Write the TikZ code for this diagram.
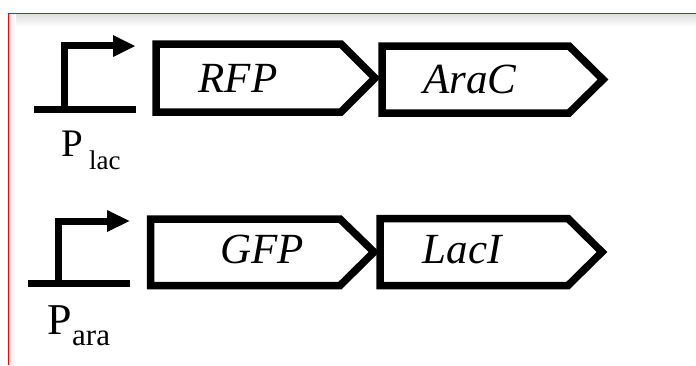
\documentclass[tikz,border=0pt]{standalone}
\usepackage{fontspec}
\setmainfont{Liberation Serif}
\begin{document}
\begin{tikzpicture}[x=1pt,y=-1pt,
  gene/.style={line width=7.5pt, line join=miter, fill=white},
  prom/.style={line width=7pt, line join=miter},
  genelbl/.style={inner sep=0pt, anchor=base, font=\fontsize{43}{48}\selectfont\itshape},
  pbig/.style={inner sep=0pt, anchor=base west},
  frame/.style={red, line width=1.5pt}]
\useasboundingbox (0,0) rectangle (696,365);
\fill[white] (0,0) rectangle (696,365);
% soft shadow inside the frame
\shade[top color=black!12, bottom color=white] (9,14.5) rectangle (696,27);
\shade[left color=black!8, right color=white] (9,14.5) rectangle (16,365);
\draw[frame] (8.5,365) -- (8.5,13.5) -- (696,13.5);

% ---------- row 1 ----------
\draw[prom] (34,109.5) -- (136,109.5);
\draw[prom] (64.5,109.5) -- (64.5,45.5) -- (114,45.5);
\fill (113,35) -- (135,46) -- (113,57) -- cycle;
\draw[gene] (156,44) -- (341,44) -- (375,78) -- (341,112) -- (156,112) -- cycle;
\draw[gene] (382,46) -- (569,46) -- (603,79.5) -- (569,113) -- (382,113) -- cycle;
\node[genelbl] (rfp) at (238,92) {RFP};
\node[genelbl] (arac) at (470,93) {AraC};
\node[pbig, font=\fontsize{39}{44}\selectfont] (plac) at (61,156) {P};
\node[pbig, font=\fontsize{27}{30}\selectfont] (placsub) at (89,169) {lac};

% ---------- row 2 ----------
\draw[prom] (28,283.5) -- (130,283.5);
\draw[prom] (58,283.5) -- (58,221) -- (108,221);
\fill (107,210) -- (129.5,221) -- (107,232) -- cycle;
\draw[gene] (150.5,219) -- (340,219) -- (374,252) -- (340,285.5) -- (150.5,285.5) -- cycle;
\draw[gene] (380,218.5) -- (568,218.5) -- (602,252) -- (568,285.5) -- (380,285.5) -- cycle;
\node[genelbl] (gfp) at (262,263) {GFP};
\node[genelbl] (laci) at (462,263) {LacI};
\node[pbig, font=\fontsize{44}{48}\selectfont] (para) at (47,334) {P};
\node[pbig, font=\fontsize{31}{34}\selectfont] (parasub) at (72,345) {ara};
\end{tikzpicture}
\end{document}
